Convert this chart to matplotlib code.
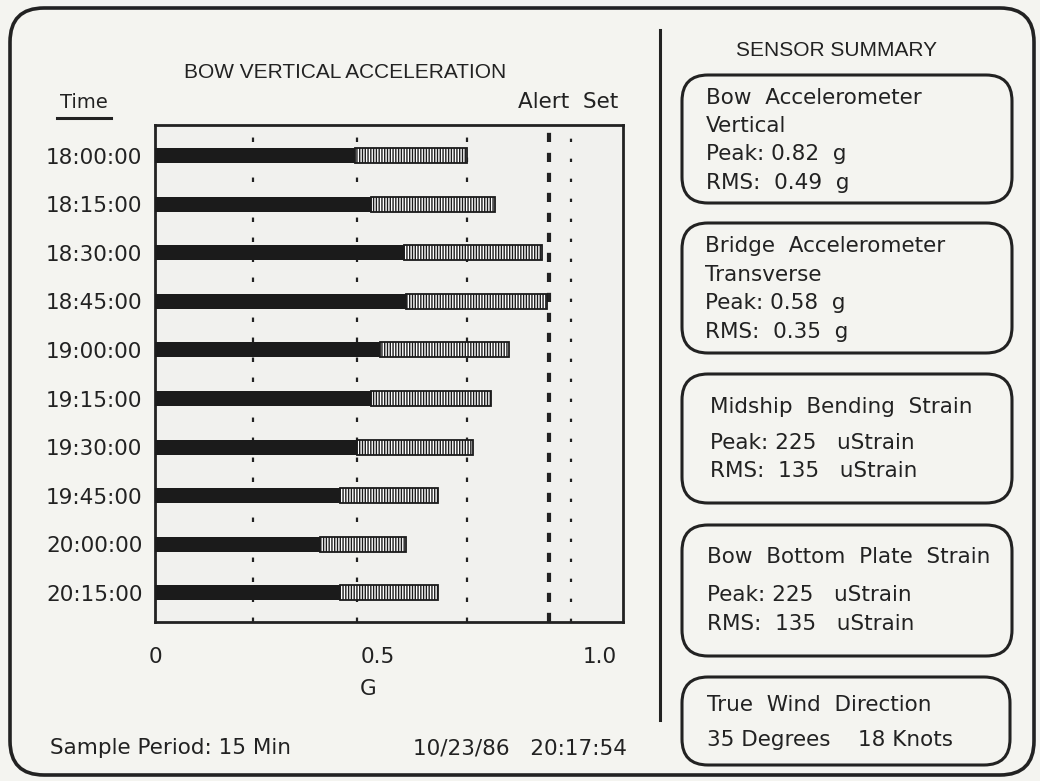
import matplotlib
matplotlib.use("Agg")
import matplotlib.pyplot as plt
from matplotlib.patches import FancyBboxPatch

# ---------------- data ----------------
times = ["18:00:00", "18:15:00", "18:30:00", "18:45:00", "19:00:00",
         "19:15:00", "19:30:00", "19:45:00", "20:00:00", "20:15:00"]
rms_g = [0.45, 0.485, 0.56, 0.565, 0.505, 0.485, 0.455, 0.415, 0.37, 0.415]
peak_g = [0.70, 0.765, 0.87, 0.88, 0.795, 0.755, 0.715, 0.635, 0.565, 0.635]
grid_g = [0.22, 0.455, 0.70]
alert_g = 0.885
set_g = 0.935
xtick_vals = [0, 0.5, 1.0]
xtick_labels = ["0", "0.5", "1.0"]

title = "BOW VERTICAL ACCELERATION"
summary_title = "SENSOR SUMMARY"
box_lines = [
    ["Bow  Accelerometer", "Vertical", "Peak: 0.82  g", "RMS:  0.49  g"],
    ["Bridge  Accelerometer", "Transverse", "Peak: 0.58  g", "RMS:  0.35  g"],
    ["Midship  Bending  Strain", "Peak: 225   uStrain", "RMS:  135   uStrain"],
    ["Bow  Bottom  Plate  Strain", "Peak: 225   uStrain", "RMS:  135   uStrain"],
    ["True  Wind  Direction", "35 Degrees    18 Knots"],
]
footer_left = "Sample Period: 15 Min"
footer_right = "10/23/86   20:17:54"

# ---------------- style ----------------
BG = "#f4f4f0"
INK = "#222222"
BODY = "DejaVu Sans"
HEAD = "Liberation Sans"
FS = 15.5
plt.rcParams["hatch.linewidth"] = 1.0

W, H = 1040, 781
fig = plt.figure(figsize=(W / 100, H / 100), dpi=100, facecolor=BG)

# overlay in pixel coordinates
bg = fig.add_axes([0, 0, 1, 1], zorder=0)
bg.set_xlim(0, W)
bg.set_ylim(H, 0)
bg.axis("off")


def rbox(x0, y0, x1, y1, r, lw):
    p = FancyBboxPatch((x0 + r, y0 + r), (x1 - x0) - 2 * r, (y1 - y0) - 2 * r,
                       boxstyle=f"round,pad={r}", fc="none", ec=INK, lw=lw)
    bg.add_patch(p)


# outer frame
rbox(10, 8, 1034, 775, 34, 2.6)
# divider
bg.plot([660, 660], [30, 720], color=INK, lw=2.2)

# ---------------- bar chart ----------------
ax = fig.add_axes([155 / W, 1 - 622 / H, 468 / W, 497 / H], zorder=1)
ax.set_facecolor("#f1f1ee")
y = list(range(len(times)))
ax.barh(y, rms_g, height=0.31, color="#1b1b1b", zorder=3)
ax.barh(y, [p - r for p, r in zip(peak_g, rms_g)], left=rms_g, height=0.31,
        color="white", edgecolor="#1b1b1b", hatch="||||||", lw=1.3, zorder=3)
for g in grid_g:
    ax.axvline(g, color=INK, lw=1.6, ls=(0, (2.0, 7.0)), zorder=2)
ax.axvline(alert_g, color=INK, lw=3.0, ls=(0, (2.2, 2.6)), zorder=2)
ax.axvline(set_g, color=INK, lw=1.6, ls=(0, (1.5, 7.5)), zorder=2)

ax.set_xlim(0, 468 / 445)
ax.set_ylim(9.6, -0.63)
ax.set_yticks(y)
ax.set_yticklabels(times, fontfamily=BODY, fontsize=FS, color=INK)
ax.set_xticks(xtick_vals)
ax.set_xticklabels(xtick_labels, fontfamily=BODY, fontsize=FS, color=INK)
ax.tick_params(axis="y", length=0, pad=9)
ax.tick_params(axis="x", length=0, pad=18)
for s in ax.spines.values():
    s.set_linewidth(2.0)
    s.set_color(INK)

# ---------------- texts ----------------
bg.text(345, 73, title, ha="center", va="center", fontfamily=HEAD, fontsize=15, color=INK)
bg.text(836, 50, summary_title, ha="center", va="center", fontfamily=HEAD, fontsize=15, color=INK)
bg.text(84, 103, "Time", ha="center", va="center", fontfamily=BODY, fontsize=14, color=INK)
bg.plot([57, 111], [118, 118], color=INK, lw=2.2)
bg.text(518, 102, "Alert  Set", ha="left", va="center", fontfamily=BODY, fontsize=FS, color=INK)
bg.text(368, 689, "G", ha="center", va="center", fontfamily=BODY, fontsize=FS, color=INK)
bg.text(50, 748, footer_left, ha="left", va="center", fontfamily=BODY, fontsize=FS, color=INK)
bg.text(627, 748, footer_right, ha="right", va="center", fontfamily=BODY, fontsize=FS, color=INK)

# sensor summary boxes
boxes = [(682, 75, 1012, 203), (682, 223, 1012, 353), (682, 374, 1012, 503),
         (682, 525, 1012, 656), (682, 677, 1010, 765)]
text_x = [706, 705, 710, 707, 707]
text_y = [[98, 126, 154, 183], [246, 275, 303, 332], [407, 443, 471],
          [557, 595, 624], [705, 740]]
for (x0, y0, x1, y1), tx, tys, lines in zip(boxes, text_x, text_y, box_lines):
    rbox(x0, y0, x1, y1, 26, 2.2)
    for ty, line in zip(tys, lines):
        bg.text(tx, ty, line, ha="left", va="center", fontfamily=BODY, fontsize=FS, color=INK)

fig.savefig("out.png", dpi=100, facecolor=BG)
